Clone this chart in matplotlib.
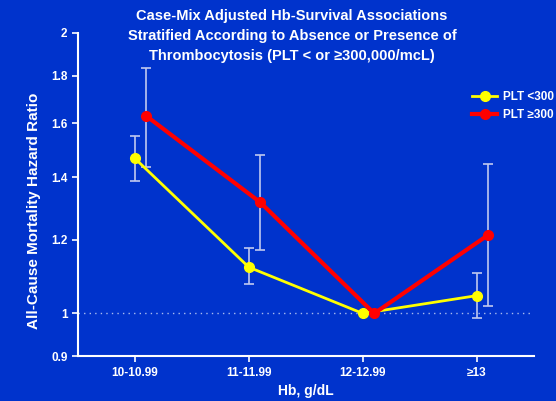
import matplotlib.pyplot as plt
import numpy as np
from matplotlib.ticker import FixedLocator, NullLocator

# categorias de Hb
categorias = ['10-10.99', '11-11.99', '12-12.99', '≥13']

# PLT < 300,000
hr_bajo = [1.467, 1.121, 1.0, 1.045]
ci_bajo_inf = [1.387, 1.075, 1.0, 0.989]
ci_bajo_sup = [1.552, 1.175, 1.0, 1.105]

# PLT >= 300,000
hr_alto = [1.629, 1.316, 1.0, 1.214]
ci_alto_inf = [1.437, 1.170, 1.0, 1.018]
ci_alto_sup = [1.835, 1.478, 1.0, 1.447]

yticks = [0.9, 1, 1.2, 1.4, 1.6, 1.8, 2]
ytick_labels = ['0.9', '1', '1.2', '1.4', '1.6', '1.8', '2']

fondo = '#0033CC'
plt.rcParams['font.family'] = ['Liberation Sans', 'DejaVu Sans']

fig = plt.figure(figsize=(5.56, 4.01), dpi=100, facecolor=fondo)
ax = fig.add_axes([0.140, 0.112, 0.820, 0.806], facecolor=fondo)

x = np.arange(len(categorias))
xa = x + 0.1

ax.axhline(1, color='#AABBEE', lw=1, ls=(0, (1, 3)), zorder=1)

err_b = [np.array(hr_bajo) - np.array(ci_bajo_inf), np.array(ci_bajo_sup) - np.array(hr_bajo)]
err_a = [np.array(hr_alto) - np.array(ci_alto_inf), np.array(ci_alto_sup) - np.array(hr_alto)]
ax.errorbar(x, hr_bajo, yerr=err_b, fmt='none', ecolor='#C0C8F0', elinewidth=1.2, capsize=3.5, capthick=1.2, zorder=2)
ax.errorbar(xa, hr_alto, yerr=err_a, fmt='none', ecolor='#C0C8F0', elinewidth=1.2, capsize=3.5, capthick=1.2, zorder=2)

ax.plot(x, hr_bajo, color='#FFFF00', lw=2, marker='o', ms=7, label='PLT <300', zorder=3)
ax.plot(xa, hr_alto, color='#FF0000', lw=3, marker='o', ms=7, label='PLT ≥300', zorder=4)

ax.set_yscale('log')
ax.set_ylim(0.9, 2)
ax.set_xlim(-0.5, 3.5)
ax.yaxis.set_major_locator(FixedLocator(yticks))
ax.yaxis.set_minor_locator(NullLocator())
ax.set_yticklabels(ytick_labels)
ax.set_xticks(x)
ax.set_xticklabels(categorias)

for s in ['top', 'right']:
    ax.spines[s].set_visible(False)
for s in ['left', 'bottom']:
    ax.spines[s].set_color('white')
    ax.spines[s].set_linewidth(1.5)
ax.tick_params(colors='white', labelsize=8.5, width=1.2, length=4)
for t in ax.get_xticklabels() + ax.get_yticklabels():
    t.set_fontweight('bold')

ax.set_xlabel('Hb, g/dL', color='white', fontsize=10, fontweight='bold')
ax.set_ylabel('All-Cause Mortality Hazard Ratio', color='white', fontsize=11, fontweight='bold')
ax.yaxis.set_label_coords(-0.08, 0.45)

fig.text(0.525, 0.978, 'Case-Mix Adjusted Hb-Survival Associations\nStratified According to Absence or Presence of\nThrombocytosis (PLT < or ≥300,000/mcL)',
         ha='center', va='top', color='white', fontsize=10.5, fontweight='bold', linespacing=1.55)

leg = ax.legend(loc='upper left', bbox_to_anchor=(0.855, 0.835), frameon=False, fontsize=8.5,
                handlelength=2.1, handletextpad=0.5, labelspacing=0.55, borderaxespad=0)
for t in leg.get_texts():
    t.set_color('white')
    t.set_fontweight('bold')

fig.savefig('out.png', dpi=100, facecolor=fondo)
